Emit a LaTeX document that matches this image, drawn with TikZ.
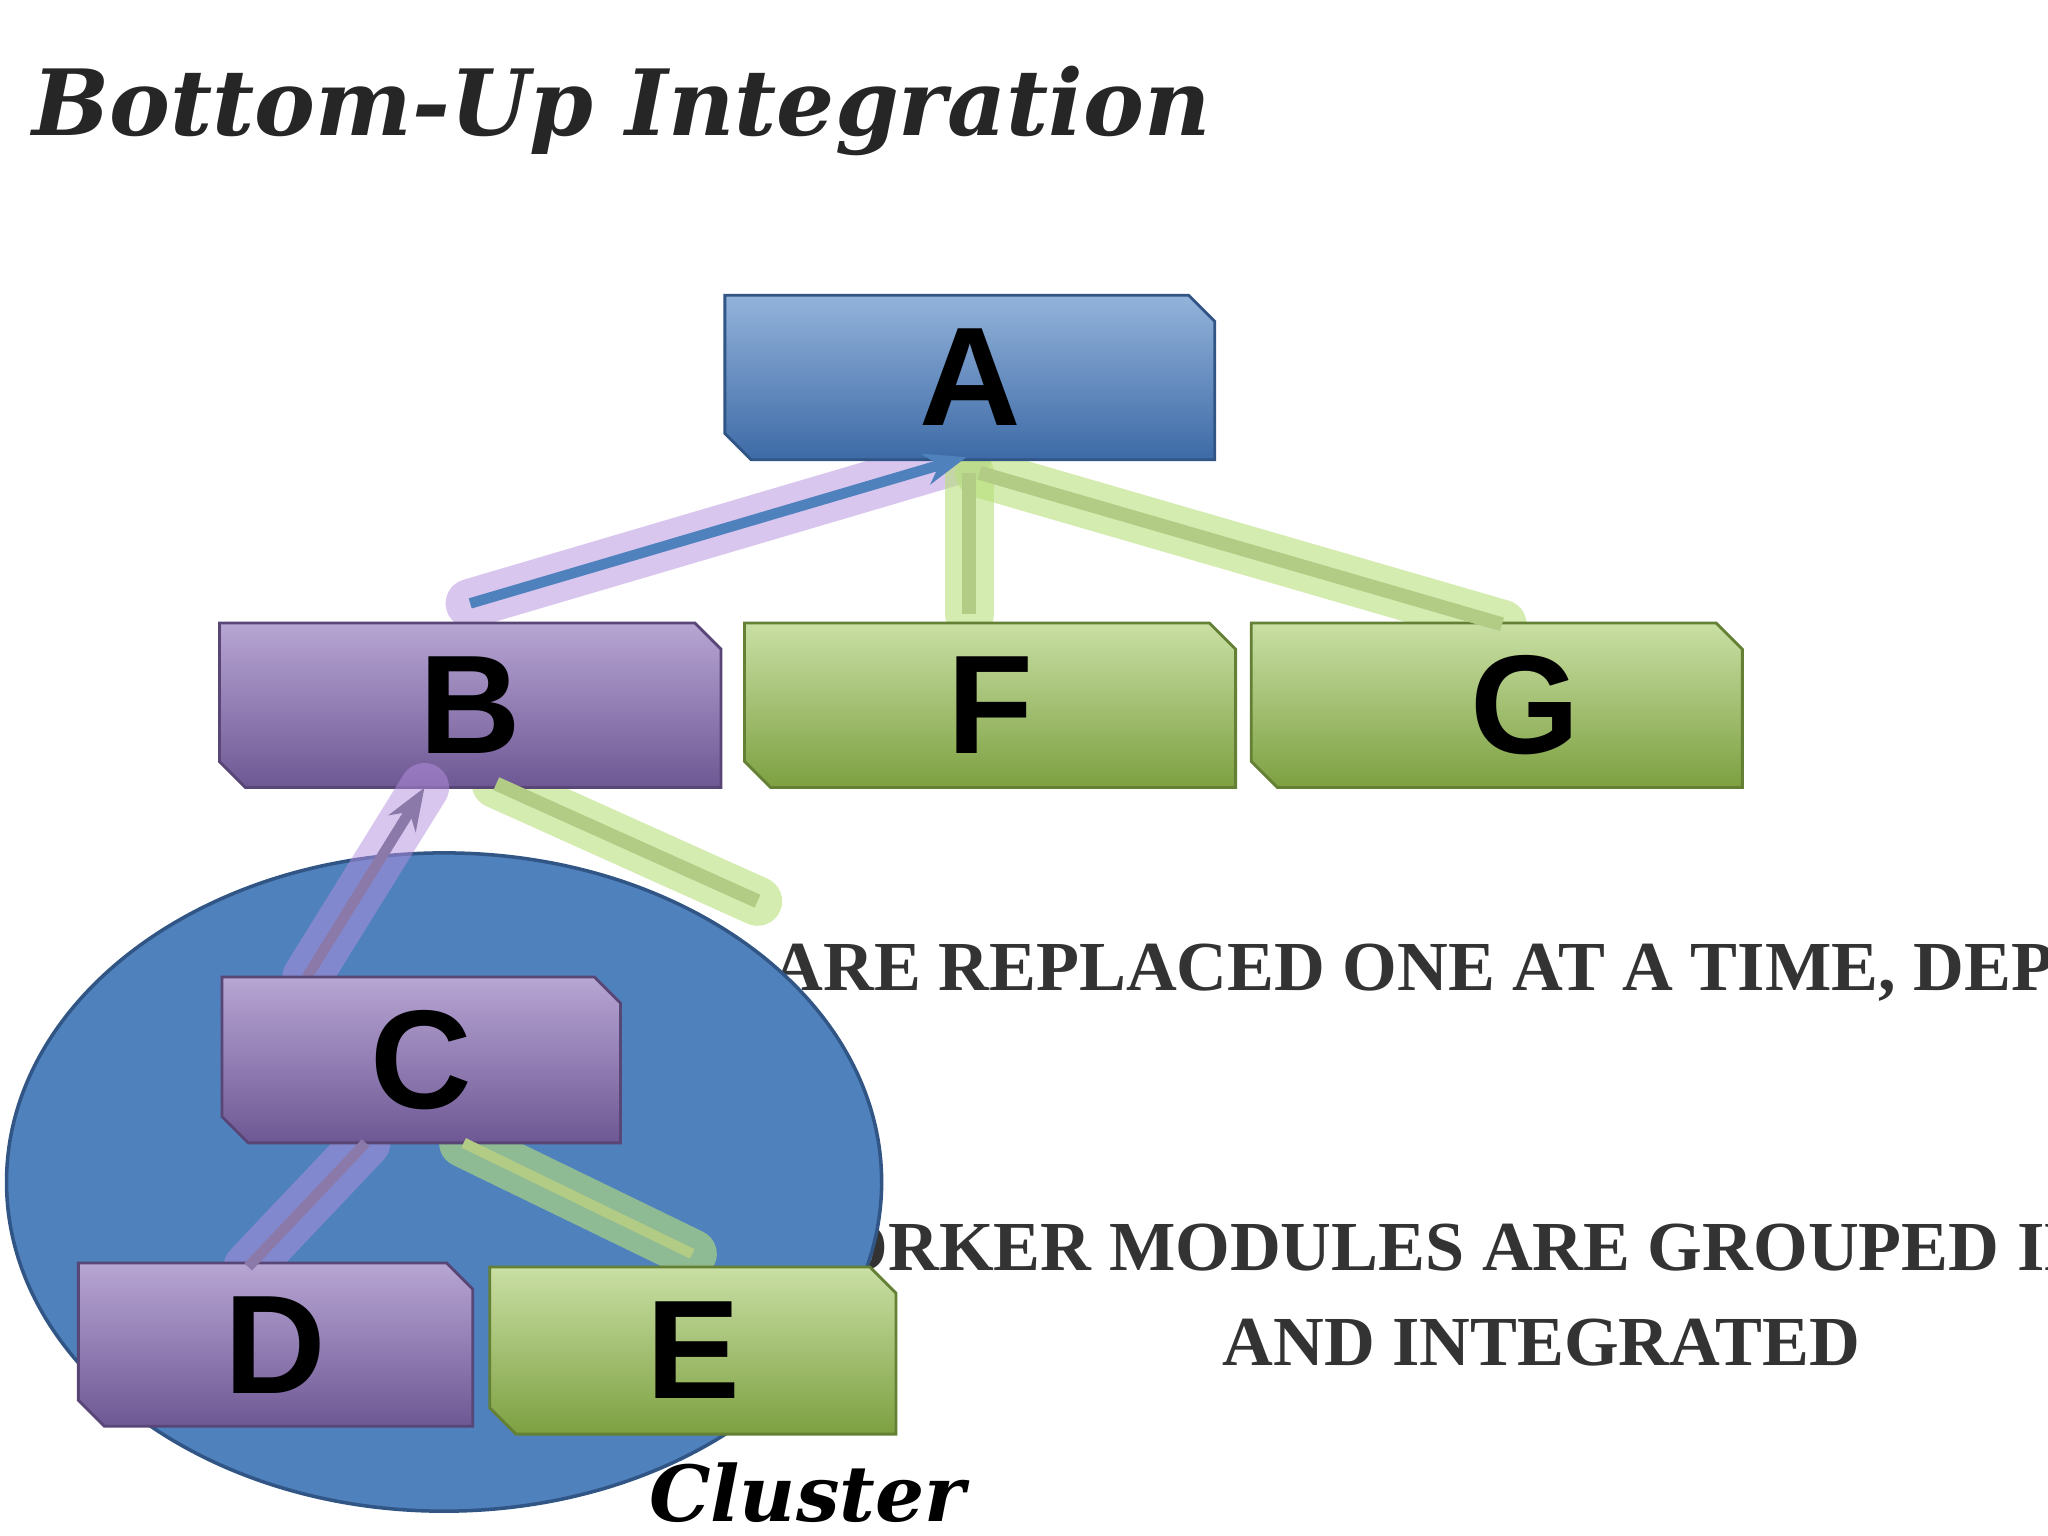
\documentclass[tikz,border=0pt]{standalone}
\usepackage{fontspec}
\setmainfont{Liberation Serif}
\setsansfont{Liberation Sans}
\newfontfamily\titlefont{DejaVu Serif}
\usetikzlibrary{arrows.meta}
\definecolor{bluetop}{HTML}{93B3DA}\definecolor{bluebot}{HTML}{3D6AA6}
\definecolor{purtop}{HTML}{B7A5D3}\definecolor{purbot}{HTML}{6E5894}
\definecolor{grntop}{HTML}{C9DFA4}\definecolor{grnbot}{HTML}{7DA041}
\definecolor{ellblue}{HTML}{4F81BD}\definecolor{glowp}{HTML}{B58FE0}\definecolor{glowg}{HTML}{B8E07A}
\tikzset{
  lbl/.style={font=\sffamily\bfseries\fontsize{40}{40}\selectfont,text=black},
  body/.style={font=\bfseries\fontsize{20}{22}\selectfont,text=black!80},
  glowpl/.style={line width=14pt,glowp,opacity=0.5,line cap=round},
  glowgl/.style={line width=14pt,glowg,opacity=0.6,line cap=round},
}
\newcommand{\snipbox}[7]{% name,x1,y1,x2,y2,top,bot
  \shade[top color=#6,bottom color=#7,draw=#7!80!black,line width=0.8pt]
   (#2,#3) -- (#4-20,#3) -- (#4,#3+20) -- (#4,#5) -- (#2+20,#5) -- (#2,#5-20) -- cycle;
  \coordinate (#1) at ({(#2+#4)/2},{(#3+#5)/2});}
\begin{document}
\begin{tikzpicture}[x=0.013061cm,y=-0.013061cm]
\useasboundingbox[fill=white] (0,0) rectangle (1568,1176);
\begin{scope}
\clip (0,0) rectangle (1568,1176);
\node[body,anchor=west] (t1) at (582,745) {ARE REPLACED ONE AT A TIME, DEPTH FIRST};
\node[body,anchor=west] (t2) at (575,955) {WORKER MODULES ARE GROUPED INTO CLUSTERS};
\node[body] (t3) at (1180,1028) {AND INTEGRATED};
\end{scope}
% glows
\draw[glowpl] (360,462) -- (740,350);
\draw[glowgl] (742,470) -- (742,362);
\draw[glowgl] (1150,478) -- (750,362);
\draw[glowgl] (380,600) -- (580,690);
\snipbox{A}{555}{226}{930}{352}{bluetop}{bluebot}
\snipbox{B}{168}{477}{552}{603}{purtop}{purbot}
\snipbox{F}{570}{477}{946}{603}{grntop}{grnbot}
\snipbox{G}{958}{477}{1334}{603}{grntop}{grnbot}
\draw[-{Stealth[length=12pt]},line width=3pt,ellblue] (360,462) -- (740,350);
\draw[line width=4pt,grntop!70!grnbot] (742,470) -- (742,362);
\draw[line width=4pt,grntop!70!grnbot] (1150,478) -- (750,362);
\draw[line width=4pt,grntop!70!grnbot] (380,600) -- (580,690);
% cluster
\fill[ellblue,draw=bluebot!80!black,line width=1pt] (340,905) ellipse [x radius=335,y radius=252];
\draw[glowpl] (235,748) -- (325,603);
\draw[-{Stealth[length=12pt]},line width=3pt,purbot!80] (235,748) -- (325,603);
\draw[glowpl] (190,970) -- (280,875);
\draw[glowgl] (530,960) -- (355,875);
\snipbox{C}{170}{748}{475}{875}{purtop}{purbot}
\snipbox{D}{60}{967}{362}{1092}{purtop}{purbot}
\snipbox{E}{375}{970}{686}{1098}{grntop}{grnbot}
\draw[line width=3pt,purbot!80] (190,970) -- (280,875);
\draw[line width=3pt,grntop!70!grnbot] (530,960) -- (355,875);
\node[lbl] at (A) {A};\node[lbl] at (B) {B};\node[lbl] at (F) {F};\node[lbl] at ([xshift=8pt]G) {G};
\node[lbl] at (C) {C};\node[lbl] at (D) {D};\node[lbl] at (E) {E};
\node[font=\titlefont\bfseries\itshape\fontsize{22}{22}\selectfont,text=black] (cl) at (618,1143) {Cluster};
\node[font=\titlefont\bfseries\itshape\fontsize{26}{26}\selectfont,text=black!85,anchor=west] (title) at (15,85) {Bottom-Up Integration};
\end{tikzpicture}
\end{document}
